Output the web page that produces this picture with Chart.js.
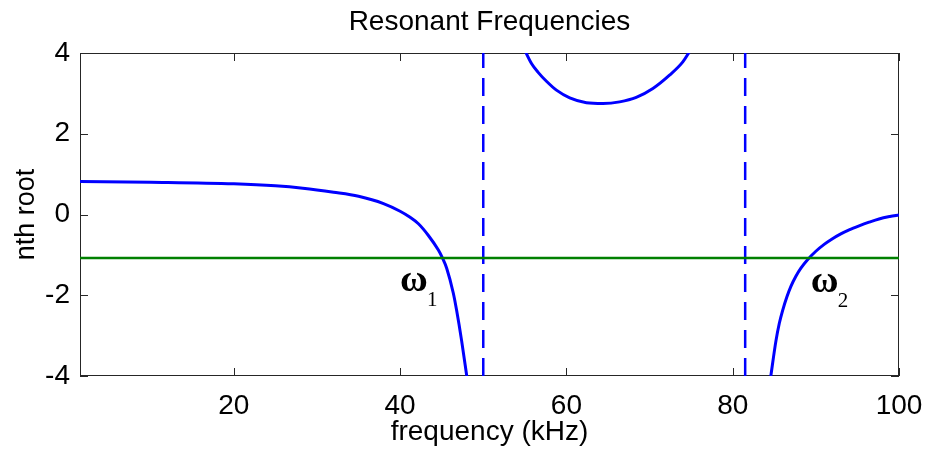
<!DOCTYPE html>
<html>
<head>
<meta charset="utf-8">
<script src="https://cdn.jsdelivr.net/npm/chart.js@4.4.0/dist/chart.umd.min.js"></script>
<style>
  html, body { margin: 0; padding: 0; background: #fff; }
  #wrap { width: 927px; height: 449px; position: relative; }
</style>
</head>
<body>
<div id="wrap"><canvas id="resChart"></canvas></div>
<script>
// --- values ---
const freqLow  = [1.5, 10, 20, 25, 28.3, 32, 35, 38, 40, 41.2, 42.2, 43.4, 44.6, 45.1, 45.6, 46.4, 46.8, 47.4, 48.05];
const rootLow  = [0.82, 0.80, 0.76, 0.71, 0.65, 0.55, 0.45, 0.27, 0.08, -0.07, -0.23, -0.52, -0.88, -1.08, -1.33, -1.95, -2.38, -3.13, -4.05];
const freqMid  = [55.1, 55.8, 56.6, 57.6, 58.8, 60.4, 62.4, 64.4, 66.4, 68.4, 70.4, 72.4, 74, 74.85];
const rootMid  = [4.02, 3.74, 3.52, 3.30, 3.08, 2.89, 2.77, 2.75, 2.79, 2.90, 3.12, 3.45, 3.78, 4.05];
const freqHigh = [84.55, 85.2, 85.6, 86, 86.5, 87, 87.6, 88.2, 89, 90, 91, 92, 93, 94, 95.2, 96.4, 97.6, 98.9, 100];
const rootHigh = [-4.05, -3.13, -2.70, -2.38, -2.05, -1.78, -1.53, -1.33, -1.12, -0.91, -0.74, -0.60, -0.48, -0.38, -0.28, -0.19, -0.11, -0.05, -0.01];
const targetRoot = -1.08;
const freqRange = [1.5, 100];
const rootRange = [-4, 4];
const poleFreqs = [50, 81.5];
const xTickValues = [20, 40, 60, 80, 100];
const yTickValues = [-4, -2, 0, 2, 4];
const omegaMarks = [
    { sub: '1', x: 40.0, y: -1.9 },
    { sub: '2', x: 89.4, y: -1.93 }
];

const sansFont = '"Liberation Sans", Arial, sans-serif';
const axisColor = '#262626';

const pts = (xs, ys) => xs.map((x, i) => ({ x: x, y: ys[i] }));

const curveStyle = {
    borderColor: '#0000ff',
    borderWidth: 3,
    pointRadius: 0,
    fill: false,
    cubicInterpolationMode: 'monotone',
    order: 1
};

// box + inward ticks, like a matlab axes
const boxPlugin = {
    id: 'boxPlugin',
    beforeDatasetsDraw(chart) {
        const { ctx, chartArea: a, scales } = chart;
        ctx.save();
        ctx.strokeStyle = axisColor;
        ctx.lineWidth = 1;
        ctx.strokeRect(a.left + 0.5, a.top + 0.5, a.width - 1, a.height - 1);
        ctx.beginPath();
        xTickValues.forEach(v => {
            const px = Math.round(scales.x.getPixelForValue(v)) + 0.5;
            ctx.moveTo(px, a.bottom); ctx.lineTo(px, a.bottom - 8);
            ctx.moveTo(px, a.top); ctx.lineTo(px, a.top + 8);
        });
        yTickValues.forEach(v => {
            const py = Math.round(scales.y.getPixelForValue(v)) + 0.5;
            ctx.moveTo(a.left, py); ctx.lineTo(a.left + 8, py);
            ctx.moveTo(a.right, py); ctx.lineTo(a.right - 8, py);
        });
        ctx.stroke();
        ctx.restore();
    },
    afterDatasetsDraw(chart) {
        const { ctx, scales } = chart;
        ctx.save();
        ctx.fillStyle = '#000';
        ctx.textBaseline = 'alphabetic';
        omegaMarks.forEach(m => {
            const px = scales.x.getPixelForValue(m.x);
            const py = scales.y.getPixelForValue(m.y);
            ctx.font = 'bold 38px "Liberation Serif", "Times New Roman", serif';
            ctx.fillText('ω', px, py);
            const w = ctx.measureText('ω').width;
            ctx.font = '21px "Liberation Serif", "Times New Roman", serif';
            ctx.fillText(m.sub, px + w - 1, py + 15);
        });
        ctx.restore();
    }
};

const ctx = document.getElementById('resChart').getContext('2d');
const resChart = new Chart(ctx, {
    type: 'line',
    data: {
        datasets: [
            { ...curveStyle, data: pts(freqLow, rootLow) },
            { ...curveStyle, data: pts(freqMid, rootMid) },
            { ...curveStyle, data: pts(freqHigh, rootHigh) },
            {
                data: freqRange.map(x => ({ x: x, y: targetRoot })),
                borderColor: '#008000', borderWidth: 2.5, pointRadius: 0, order: 0
            },
            ...poleFreqs.map(f => ({
                data: rootRange.map(y => ({ x: f, y: y })),
                borderColor: '#0000ff', borderWidth: 2.5, borderDash: [18, 10],
                pointRadius: 0, order: 2
            }))
        ]
    },
    options: {
        responsive: true,
        maintainAspectRatio: false,
        animation: false,
        layout: { padding: { left: 0, right: 28, top: 0, bottom: 0 } },
        plugins: {
            legend: { display: false },
            tooltip: { enabled: false },
            title: {
                display: true,
                fullSize: false,
                text: 'Resonant Frequencies',
                color: '#000',
                font: { family: sansFont, size: 28, weight: 'normal' },
                padding: { top: 5, bottom: 14.4 }
            }
        },
        scales: {
            x: {
                type: 'linear',
                min: freqRange[0],
                max: freqRange[1],
                afterBuildTicks: s => { s.ticks = xTickValues.map(v => ({ value: v })); },
                afterFit: s => { s.height = 73; s.paddingLeft = 0; s.paddingRight = 0; },
                grid: { display: false, drawTicks: false },
                border: { display: false },
                ticks: {
                    color: '#000', padding: 13, maxRotation: 0, autoSkip: false,
                    font: { family: sansFont, size: 28 }
                },
                title: {
                    display: true, text: 'frequency (kHz)', color: '#000',
                    font: { family: sansFont, size: 28 },
                    padding: { top: 0, bottom: 0 }
                }
            },
            y: {
                type: 'linear',
                min: rootRange[0],
                max: rootRange[1],
                afterBuildTicks: s => { s.ticks = yTickValues.map(v => ({ value: v })); },
                afterFit: s => { s.width = 80; s.paddingTop = 0; s.paddingBottom = 0; },
                grid: { display: false, drawTicks: false },
                border: { display: false },
                ticks: {
                    color: '#000', padding: 10, autoSkip: false,
                    font: { family: sansFont, size: 28 }
                },
                title: {
                    display: true, text: 'nth root', color: '#000',
                    font: { family: sansFont, size: 27 },
                    padding: { top: 10, bottom: 0 }
                }
            }
        }
    },
    plugins: [boxPlugin]
});
</script>
</body>
</html>
